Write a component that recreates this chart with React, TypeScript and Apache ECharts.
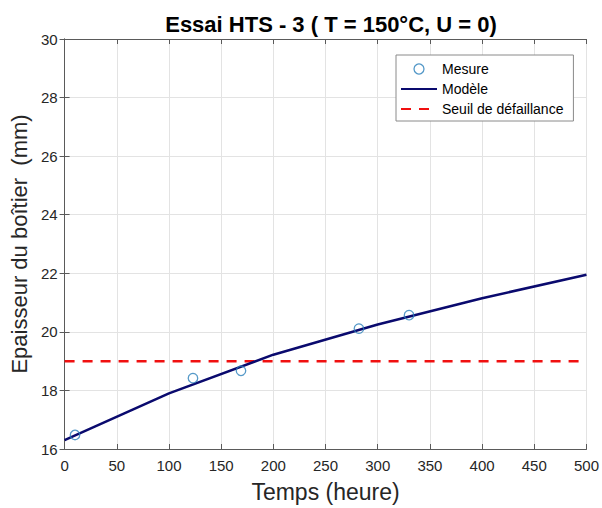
import React, { useEffect, useRef } from "react";
import * as echarts from "echarts";

const titleText = "Essai HTS - 3 ( T = 150°C, U = 0)";
const xName = "Temps (heure)";
const yName = "Epaisseur du boîtier  (mm)";

const mesureX = [10, 123, 169, 282, 330];
const mesureY = [16.48, 18.42, 18.67, 20.11, 20.57];

const modeleX = [0, 100, 200, 300, 400, 500];
const modeleY = [16.3, 17.9, 19.22, 20.25, 21.15, 21.95];

const seuilX = [0, 500];
const seuilY = [19, 19];

const FONT = "'Liberation Sans', Arial, sans-serif";

export default function App() {
  const ref = useRef<HTMLDivElement>(null);
  useEffect(() => {
    if (!ref.current) return;
    const chart = echarts.init(ref.current, undefined, { renderer: "svg" });
    const axisColor = "#5a5a5a";
    const markerColor = "#2a7fba";
    const labelStyle = { color: "#262626", fontSize: 15, fontFamily: FONT };
    chart.setOption({
      animation: false,
      backgroundColor: "#fff",
      title: {
        text: titleText,
        left: 326,
        textAlign: "center",
        top: 8,
        textStyle: { fontSize: 22, fontWeight: "bold", fontFamily: FONT, color: "#000" },
      },
      grid: { left: 64, right: 14, top: 39, bottom: 58, containLabel: false },
      legend: {
        orient: "vertical",
        left: 396,
        top: 55,
        itemWidth: 36,
        itemHeight: 10,
        itemGap: 6,
        itemTextGap: 5,
        padding: [7, 10, 5, 4],
        backgroundColor: "#fff",
        borderColor: "#8a8a8a",
        borderWidth: 1,
        borderRadius: 0,
        textStyle: { fontSize: 14, fontFamily: FONT, color: "#000" },
        data: [
          {
            name: "Mesure",
            icon: "circle",
            itemStyle: { color: "rgba(0,0,0,0)", borderColor: markerColor, borderWidth: 1.3 },
          },
          { name: "Modèle", itemStyle: { opacity: 0 } },
          { name: "Seuil de défaillance", itemStyle: { opacity: 0 } },
        ],
      },
      xAxis: [
        {
          type: "value",
          min: 0,
          max: 500,
          interval: 50,
          name: xName,
          nameLocation: "middle",
          nameGap: 31,
          nameTextStyle: { fontSize: 23, fontFamily: FONT, color: "#262626" },
          axisLine: { show: true, lineStyle: { color: axisColor, width: 1 } },
          axisTick: { show: true, inside: true, length: 5, lineStyle: { color: axisColor } },
          axisLabel: { ...labelStyle, margin: 9 },
          splitLine: { show: true, lineStyle: { color: "#e3e3e3", width: 1 } },
        },
        {
          type: "value",
          position: "top",
          min: 0,
          max: 500,
          interval: 50,
          axisLine: { show: true, lineStyle: { color: axisColor, width: 1 } },
          axisTick: { show: true, inside: true, length: 5, lineStyle: { color: axisColor } },
          axisLabel: { show: false },
          splitLine: { show: false },
        },
      ],
      yAxis: [
        {
          type: "value",
          min: 16,
          max: 30,
          interval: 2,
          name: yName,
          nameLocation: "middle",
          nameGap: 31,
          nameTextStyle: { fontSize: 22, fontFamily: FONT, color: "#262626" },
          axisLine: { show: true, lineStyle: { color: axisColor, width: 1 } },
          axisTick: { show: true, inside: true, length: 5, lineStyle: { color: axisColor } },
          axisLabel: { ...labelStyle, margin: 7 },
          splitLine: { show: true, lineStyle: { color: "#e3e3e3", width: 1 } },
        },
        {
          type: "value",
          position: "right",
          min: 16,
          max: 30,
          interval: 2,
          axisLine: { show: true, lineStyle: { color: axisColor, width: 1 } },
          axisTick: { show: true, inside: true, length: 5, lineStyle: { color: axisColor } },
          axisLabel: { show: false },
          splitLine: { show: false },
        },
      ],
      series: [
        {
          name: "Modèle",
          type: "line",
          data: modeleX.map((x, i) => [x, modeleY[i]]),
          symbol: "none",
          lineStyle: { color: "#0a0a6e", width: 2.5 },
          itemStyle: { color: "#0a0a6e" },
          z: 3,
        },
        {
          name: "Seuil de défaillance",
          type: "line",
          data: seuilX.map((x, i) => [x, seuilY[i]]),
          symbol: "none",
          lineStyle: { color: "#f01010", width: 2.5, type: [10, 8] },
          itemStyle: { color: "#f01010" },
          z: 2,
        },
        {
          name: "Mesure",
          type: "scatter",
          data: mesureX.map((x, i) => [x, mesureY[i]]),
          symbol: "circle",
          symbolSize: 9.5,
          itemStyle: { color: "rgba(0,0,0,0)", borderColor: markerColor, borderWidth: 1.3 },
          z: 4,
        },
      ],
    });
    return () => chart.dispose();
  }, []);
  return <div ref={ref} style={{ width: 602, height: 508, position: "absolute", left: 0, top: 0 }} />;
}
